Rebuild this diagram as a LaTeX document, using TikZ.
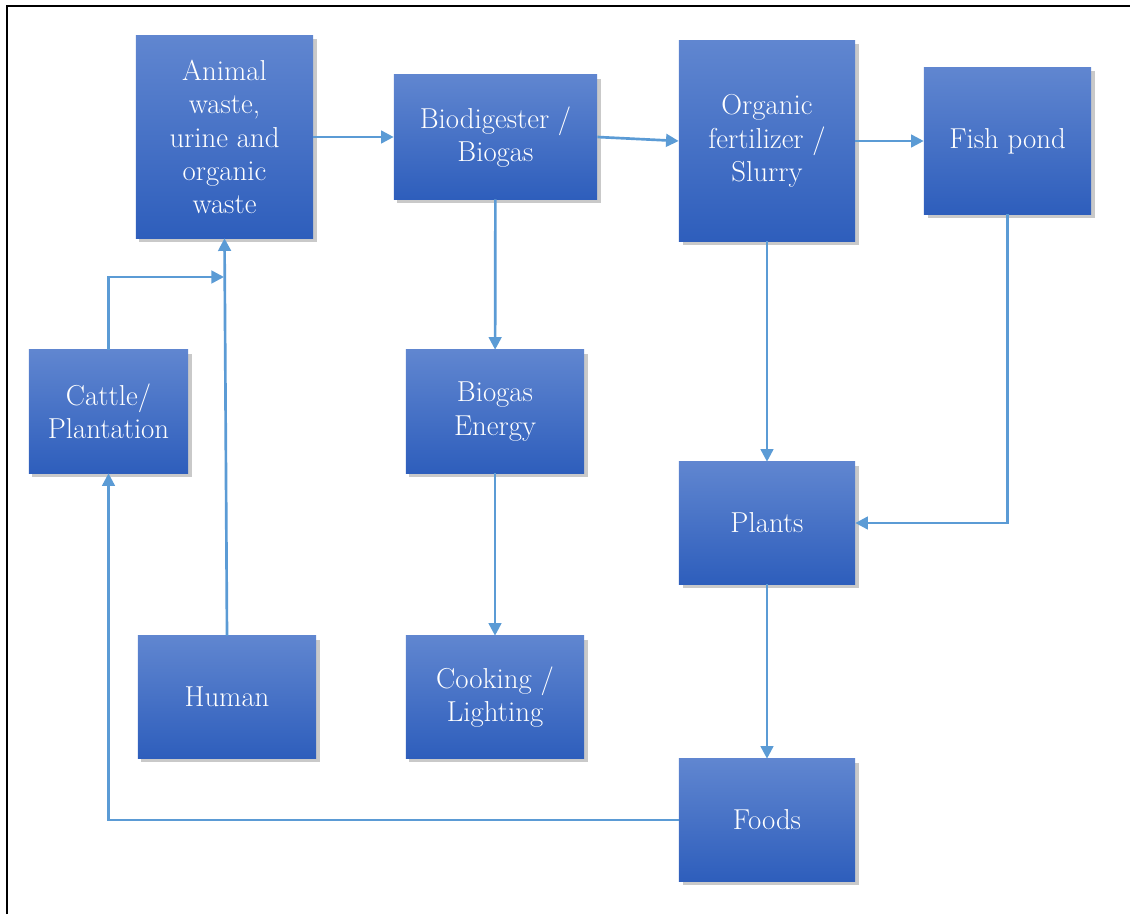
\documentclass[tikz,border=0pt]{standalone}
\usetikzlibrary{arrows.meta,shadows}
\definecolor{boxtop}{RGB}{96,134,208}
\definecolor{boxbot}{RGB}{46,94,188}
\definecolor{conncol}{RGB}{91,155,213}
\tikzset{
  box/.style={rectangle, top color=boxtop, bottom color=boxbot, draw=none,
    inner sep=2pt, align=center, text=white,
    font=\fontsize{20.5}{23.6}\selectfont,
    drop shadow={shadow xshift=2.5pt, shadow yshift=-2.5pt, opacity=0.3, fill=black!70}},
  conn/.style={draw=conncol, line width=1.9pt, -{Triangle[length=9pt,width=9pt]}},
}
\begin{document}
\begin{tikzpicture}[x=0.025cm, y=-0.025cm]
\useasboundingbox (0,0) rectangle (1130,914);
\draw[black, line width=1.6pt] (7,914) -- (7,6) -- (1130,6);

\node[box, minimum width=4.425cm, minimum height=5.05cm] (animal) at (224.5,137) {Animal\\waste,\\urine and\\organic\\waste};
\node[box, minimum width=5.075cm, minimum height=3.1cm] (bio) at (495.5,137) {Biodigester /\\Biogas};
\node[box, minimum width=4.4cm, minimum height=5.0cm] (org) at (767,141) {Organic\\fertilizer /\\Slurry};
\node[box, minimum width=4.175cm, minimum height=3.65cm] (fish) at (1007.5,141) {Fish pond};
\node[box, minimum width=3.975cm, minimum height=3.075cm] (cattle) at (108.5,411.5) {Cattle/\\Plantation};
\node[box, minimum width=4.45cm, minimum height=3.075cm] (energy) at (495,411.5) {Biogas\\Energy};
\node[box, minimum width=4.4cm, minimum height=3.05cm] (plants) at (767,523) {Plants};
\node[box, minimum width=4.45cm, minimum height=3.05cm] (human) at (227,697) {Human};
\node[box, minimum width=4.45cm, minimum height=3.05cm] (cook) at (495,697) {Cooking /\\Lighting};
\node[box, minimum width=4.4cm, minimum height=3.05cm] (foods) at (767,820) {Foods};

\coordinate (j) at (224,277);

\draw[conn] (animal) -- (bio);
\draw[conn] (bio.east) -- (org.west);
\draw[conn] (org) -- (fish);
\draw[conn] (bio) -- (energy);
\draw[conn] (energy) -- (cook);
\draw[conn] (org) -- (plants);
\draw[conn] (fish.south) |- (plants.east);
\draw[conn] (plants) -- (foods);
\draw[conn] (foods.west) -| (cattle.south);
\draw[conn] (cattle.north) |- (j);
\draw[conn] (human.north) -- (animal.south);
\end{tikzpicture}
\end{document}
